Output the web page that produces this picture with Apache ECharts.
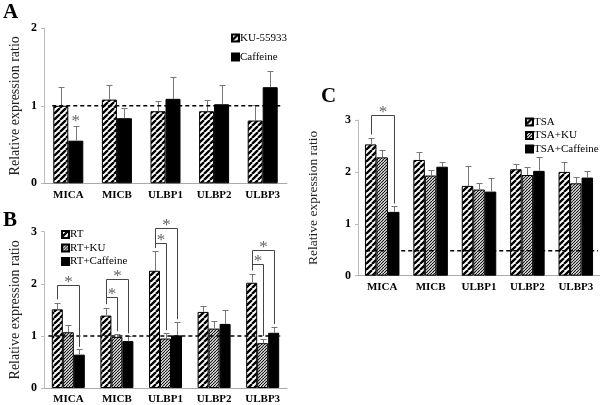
<!DOCTYPE html>
<html><head><meta charset="utf-8">
<script src="https://cdn.jsdelivr.net/npm/echarts@6/dist/echarts.min.js"></script>
<style>html,body{margin:0;padding:0;background:#fff}#c{width:600px;height:405px}</style>
</head><body><div id="c"></div>
<script>
const categories = ['MICA', 'MICB', 'ULBP1', 'ULBP2', 'ULBP3'];
const yTicksA = [0, 1, 2];
const yTicksBC = [0, 1, 2, 3];

// Panel A
const aKU = [1.00, 1.08, 0.93, 0.93, 0.81];
const aKUErr = [0.24, 0.19, 0.13, 0.14, 0.20];
const aCaf = [0.55, 0.84, 1.09, 1.02, 1.24];
const aCafErr = [0.19, 0.13, 0.28, 0.25, 0.21];
const aRef = 1;
const aStars = [[0, 1, 0.83]]; // [category, bar, value]

// Panel B
const bRT = [1.51, 1.39, 2.25, 1.46, 2.02];
const bRTErr = [0.12, 0.15, 0.37, 0.11, 0.17];
const bKU = [1.07, 0.98, 0.95, 1.14, 0.86];
const bKUErr = [0.13, 0.06, 0.11, 0.14, 0.09];
const bCaf = [0.64, 0.90, 1.01, 1.23, 1.06];
const bCafErr = [0.10, 0.10, 0.26, 0.26, 0.12];
const bRef = 1;
const bBrackets = [[0, 0, 2, 1.98], [1, 0, 1, 1.74], [1, 0, 2, 2.10], [2, 0, 1, 2.79], [2, 0, 2, 3.07], [4, 0, 1, 2.38], [4, 0, 2, 2.64]];

// Panel C
const cTSA = [2.53, 2.23, 1.73, 2.05, 2.00];
const cTSAErr = [0.12, 0.15, 0.38, 0.11, 0.20];
const cKU = [2.28, 1.93, 1.66, 1.94, 1.78];
const cKUErr = [0.14, 0.11, 0.13, 0.15, 0.13];
const cCaf = [1.23, 2.10, 1.62, 2.02, 1.89];
const cCafErr = [0.11, 0.10, 0.27, 0.27, 0.13];
const cRef = 0.48;
const cBrackets = [[0, 0, 2, 3.10]];

const FONT = '"Liberation Serif", "Times New Roman", serif';

function hatch(size, lw, color) {
  const c = document.createElement('canvas');
  c.width = size; c.height = size;
  const g = c.getContext('2d');
  g.fillStyle = '#fff'; g.fillRect(0, 0, size, size);
  g.strokeStyle = color; g.lineWidth = lw;
  g.beginPath();
  for (let o = -size; o <= size; o += size) { g.moveTo(o, size); g.lineTo(o + size, 0); }
  g.stroke();
  return c;
}
const wide = { image: hatch(6, 2.3, '#000'), repeat: 'repeat' };
const fine = { image: hatch(3, 1.2, '#111'), repeat: 'repeat' };

function barSeries(name, data, fill, ax, bw) {
  return { type: 'bar', name: name, data: data, xAxisIndex: ax, yAxisIndex: ax, barWidth: bw, barGap: '0%',
    itemStyle: { color: fill, borderColor: '#000', borderWidth: 1 }, z: 2 };
}
function errSeries(vals, errs, n, k, bw, ax) {
  return { type: 'custom', xAxisIndex: ax, yAxisIndex: ax, z: 3, silent: true,
    data: vals.map((v, i) => [i, v, errs[i]]),
    renderItem: function (params, api) {
      const c = api.coord([api.value(0), api.value(1)]);
      const t = api.coord([api.value(0), api.value(1) + api.value(2)]);
      const x = Math.round(c[0] + (k - (n - 1) / 2) * bw) + 0.5;
      const ty = Math.round(t[1]) + 0.5;
      const st = { stroke: '#777', lineWidth: 1 };
      return { type: 'group', children: [
        { type: 'line', shape: { x1: x, y1: c[1], x2: x, y2: ty }, style: st },
        { type: 'line', shape: { x1: x - 3, y1: ty, x2: x + 3, y2: ty }, style: st }
      ] };
    } };
}
function refSeries(val, ax, e0, e1) {
  return { type: 'custom', xAxisIndex: ax, yAxisIndex: ax, z: 4, silent: true, data: [[0, val]],
    renderItem: function (params, api) {
      const p0 = api.coord([0, api.value(1)]);
      const p4 = api.coord([categories.length - 1, api.value(1)]);
      const band = api.size([1, 0])[0];
      return { type: 'line', shape: { x1: p0[0] - e0 * band, y1: p0[1], x2: p4[0] + e1 * band, y2: p0[1] },
        style: { stroke: '#000', lineWidth: 1.5, lineDash: [4, 3] } };
    } };
}
function bracketSeries(rows, vals, errs, bw, ax) {
  const n = vals.length;
  return { type: 'custom', xAxisIndex: ax, yAxisIndex: ax, z: 5, silent: true, clip: false,
    data: rows.map(r => [r[0], r[3], r[1], r[2]]),
    renderItem: function (params, api) {
      const cat = api.value(0), lvl = api.value(1), f = api.value(2), t = api.value(3);
      const base = api.coord([cat, lvl]);
      const xf = Math.round(base[0] + (f - (n - 1) / 2) * bw) + 0.5;
      const xt = Math.round(base[0] + (t - (n - 1) / 2) * bw) + 0.5;
      const y = Math.round(base[1]) + 0.5;
      const yl = api.coord([cat, vals[f][cat] + errs[f][cat] + 0.07])[1];
      const yr = api.coord([cat, vals[t][cat] + errs[t][cat] + 0.05])[1];
      return { type: 'group', children: [
        { type: 'polyline', shape: { points: [[xf, yl], [xf, y], [xt, y], [xt, yr]] }, style: { stroke: '#444', lineWidth: 1, fill: null } },
        { type: 'text', x: (xf + xt) / 2, y: y - 3, style: { text: '*', font: '17px ' + FONT, fill: '#666', align: 'center', verticalAlign: 'middle' } }
      ] };
    } };
}
function starSeries(rows, n, bw, ax) {
  return { type: 'custom', xAxisIndex: ax, yAxisIndex: ax, z: 5, silent: true,
    data: rows.map(r => [r[0], r[2], r[1]]),
    renderItem: function (params, api) {
      const p = api.coord([api.value(0), api.value(1)]);
      const x = p[0] + (api.value(2) - (n - 1) / 2) * bw;
      return { type: 'text', x: x, y: p[1] + 3, style: { text: '*', font: '17px ' + FONT, fill: '#666', align: 'center', verticalAlign: 'middle' } };
    } };
}

function xAx(grid) {
  return { type: 'category', gridIndex: grid, data: categories,
    axisLine: { lineStyle: { color: '#aaa' } }, axisTick: { length: 3, lineStyle: { color: '#aaa' } },
    axisLabel: { color: '#000', fontWeight: 'bold', fontSize: 11, fontFamily: FONT, margin: 6 } };
}
function yAx(grid, max, gap, nameSize) {
  return { type: 'value', gridIndex: grid, min: 0, max: max, interval: 1,
    name: 'Relative expression ratio', nameLocation: 'middle', nameGap: gap,
    nameTextStyle: { color: '#222', fontSize: nameSize, fontFamily: FONT },
    axisLine: { show: true, lineStyle: { color: '#bbb' } }, axisTick: { show: true, length: 3, lineStyle: { color: '#bbb' } },
    splitLine: { show: false },
    axisLabel: { color: '#000', fontWeight: 'bold', fontSize: 12, fontFamily: FONT, margin: 7 } };
}
function legend(names, left, top, gap, tpad) {
  return { data: names, orient: 'vertical', left: left, top: top, itemWidth: 7, itemHeight: 7, itemGap: gap,
    padding: 0, selectedMode: false, icon: 'rect',
    textStyle: { color: '#000', fontSize: 11, fontFamily: FONT, lineHeight: 13, padding: [0, 0, 0, tpad] } };
}

const BWA = 15, BWB = 11, BWC = 11.5;
const chart = echarts.init(document.getElementById('c'), null, { renderer: 'canvas' });
chart.setOption({
  animation: false,
  backgroundColor: '#fff',
  grid: [
    { left: 44, right: 313, top: 28.3, bottom: 221.7 },
    { left: 44, right: 313, top: 231.7, bottom: 16 },
    { left: 358, right: 0, top: 120, bottom: 129.3 }
  ],
  xAxis: [xAx(0), xAx(1), xAx(2)],
  yAxis: [yAx(0, 2, 22, 14), yAx(1, 3, 22, 14), yAx(2, 3, 38, 13.5)],
  legend: [
    legend(['KU-55933', 'Caffeine'], 231, 31.5, 6, -4),
    legend(['RT', 'RT+KU', 'RT+Caffeine'], 61, 228, 0.5, -4),
    legend(['TSA', 'TSA+KU', 'TSA+Caffeine'], 525, 115.5, 0.5, -4)
  ],
  graphic: [
    { type: 'text', left: 3, top: 2, style: { text: 'A', font: 'bold 21px ' + FONT, fill: '#000' } },
    { type: 'text', left: 3, top: 210, style: { text: 'B', font: 'bold 21px ' + FONT, fill: '#000' } },
    { type: 'text', left: 321, top: 86, style: { text: 'C', font: 'bold 21px ' + FONT, fill: '#000' } }
  ],
  series: [
    barSeries('KU-55933', aKU, wide, 0, BWA),
    barSeries('Caffeine', aCaf, '#000', 0, BWA),
    errSeries(aKU, aKUErr, 2, 0, BWA, 0),
    errSeries(aCaf, aCafErr, 2, 1, BWA, 0),
    refSeries(aRef, 0, 0.33, 0.4),
    starSeries(aStars, 2, BWA, 0),

    barSeries('RT', bRT, wide, 1, BWB),
    barSeries('RT+KU', bKU, fine, 1, BWB),
    barSeries('RT+Caffeine', bCaf, '#000', 1, BWB),
    errSeries(bRT, bRTErr, 3, 0, BWB, 1),
    errSeries(bKU, bKUErr, 3, 1, BWB, 1),
    errSeries(bCaf, bCafErr, 3, 2, BWB, 1),
    refSeries(bRef, 1, 0.41, 0.36),
    bracketSeries(bBrackets, [bRT, bKU, bCaf], [bRTErr, bKUErr, bCafErr], BWB, 1),

    barSeries('TSA', cTSA, wide, 2, BWC),
    barSeries('TSA+KU', cKU, fine, 2, BWC),
    barSeries('TSA+Caffeine', cCaf, '#000', 2, BWC),
    errSeries(cTSA, cTSAErr, 3, 0, BWC, 2),
    errSeries(cKU, cKUErr, 3, 1, BWC, 2),
    errSeries(cCaf, cCafErr, 3, 2, BWC, 2),
    refSeries(cRef, 2, 0.33, 0.46),
    bracketSeries(cBrackets, [cTSA, cKU, cCaf], [cTSAErr, cKUErr, cCafErr], BWC, 2)
  ]
});
</script></body></html>
